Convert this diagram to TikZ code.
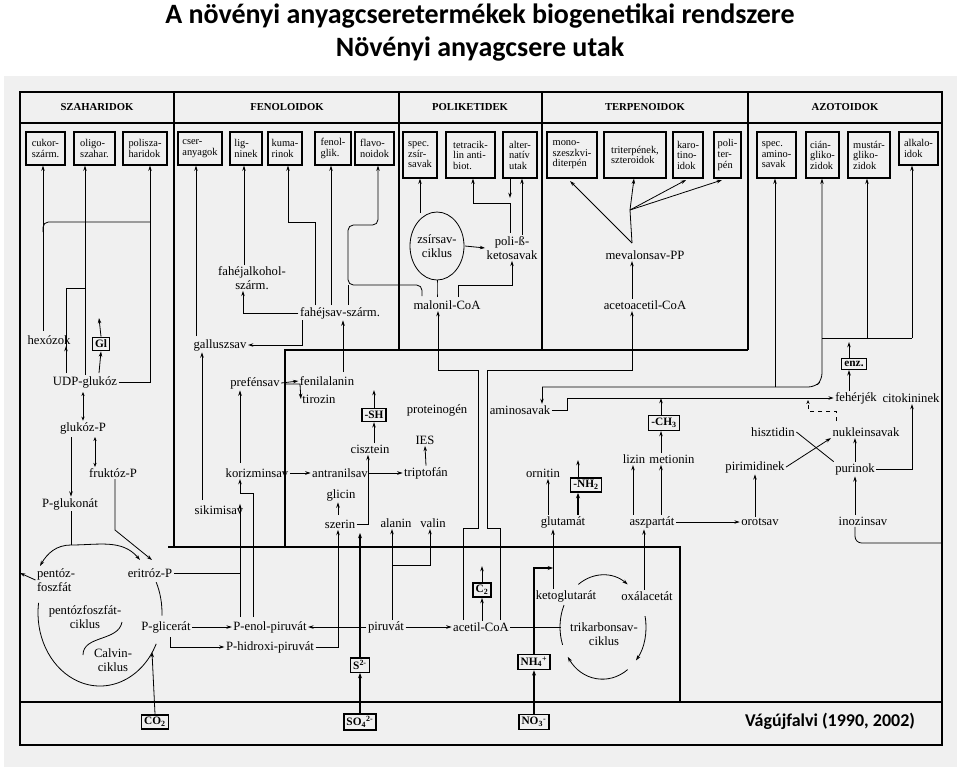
\documentclass[tikz,border=0pt]{standalone}
\usepackage{fontspec}
\setmainfont{Liberation Serif}
\newfontfamily\titlef{Carlito}
\usetikzlibrary{arrows.meta}
\newcommand{\tb}[6]{\node[bx,minimum width={(#3-#2)*0.75pt},minimum height={(#5-#4)*0.75pt}] (#1) at ({(#2+#3)/2},{(#4+#5)/2}) {#6};}
\begin{document}
\begin{tikzpicture}[x=0.75pt,y=-0.75pt,
 lab/.style={inner sep=1pt,font=\fontsize{9.5}{10}\selectfont,align=center},
 bx/.style={draw,line width=0.9pt,inner sep=1pt,font=\fontsize{7.8}{7.9}\selectfont,align=left},
 sbx/.style={draw,line width=1.1pt,inner sep=2pt,font=\fontsize{8.5}{9}\selectfont\bfseries},
 hd/.style={font=\fontsize{8}{9}\selectfont\bfseries},
 ln/.style={line width=0.6pt},
 ar/.style={line width=0.6pt,-{Stealth[length=4pt,width=2.6pt]}},
 tar/.style={line width=1.2pt,-{Stealth[length=4pt,width=3pt]}},
 fr/.style={line width=1pt}]
\useasboundingbox (0,0) rectangle (960,771);
\fill[white] (0,0) rectangle (960,771);
\fill[gray!12] (4,76) rectangle (957,767);
\node[font=\titlef\fontsize{21}{22}\selectfont\bfseries] (t1) at (480,16) {A növényi anyagcseretermékek biogenetikai rendszere};
\node[font=\titlef\fontsize{21}{22}\selectfont\bfseries] (t2) at (480,49) {Növényi anyagcsere utak};
% frame
\draw[fr] (20,92) rectangle (942,745);
\draw[fr] (20,123) -- (942,123);
\draw[fr] (20,702) -- (942,702);
\draw[fr] (174,92) -- (174,547);
\draw[fr] (399,92) -- (399,350);
\draw[fr] (542,92) -- (542,350);
\draw[fr] (748,92) -- (748,350);
\draw[fr] (285,547) -- (285,350) -- (748,350);
\draw[fr] (168,547) -- (680,547) -- (680,702);
\node[hd] (h1) at (97,107) {SZAHARIDOK};
\node[hd] (h2) at (287,107) {FENOLOIDOK};
\node[hd] (h3) at (470,107) {POLIKETIDEK};
\node[hd] (h4) at (645,107) {TERPENOIDOK};
\node[hd] (h5) at (845,107) {AZOTOIDOK};
% top boxes
\tb{b1}{26}{65}{132}{165}{cukor-\\szárm.}
\tb{b2}{74}{115}{132}{165}{oligo-\\szahar.}
\tb{b3}{123}{167}{132}{165}{polisza-\\haridok}
\tb{b4}{178}{222}{132}{165}{cser-\\anyagok}
\tb{b5}{230}{262}{132}{165}{lig-\\ninek}
\tb{b6}{268}{302}{132}{165}{kuma-\\rinok}
\tb{b7}{315}{351}{132}{165}{fenol-\\glik.}
\tb{b8}{355}{394}{132}{165}{flavo-\\noidok}
\tb{b9}{403}{437}{132}{178}{spec.\\zsír-\\savak}
\tb{b10}{446}{495}{132}{178}{tetracik-\\lin anti-\\biot.}
\tb{b11}{503}{537}{132}{178}{alter-\\natív\\utak}
\tb{b12}{547}{597}{132}{178}{mono-\\szeszkvi-\\diterpén}
\tb{b13}{604}{666}{132}{178}{triterpének,\\szteroidok}
\tb{b14}{673}{703}{132}{178}{karo-\\tino-\\idok}
\tb{b15}{714}{741}{132}{178}{poli-\\ter-\\pén}
\tb{b16}{757}{796}{132}{178}{spec.\\amino-\\savak}
\tb{b17}{806}{839}{132}{178}{cián-\\gliko-\\zidok}
\tb{b18}{848}{890}{132}{178}{mustár-\\gliko-\\zidok}
\tb{b19}{899}{938}{132}{165}{alkalo-\\idok}
% labels
\node[lab] (hex) at (49,340) {hexózok};
\node[sbx] (gl) at (101,344) {Gl};
\node[lab] (udp) at (85,382) {UDP-glukóz};
\node[lab] (glp) at (83,428) {glukóz-P};
\node[lab] (frp) at (113,473) {fruktóz-P};
\node[lab] (pgl) at (70,504) {P-glukonát};
\node[lab,align=left] (pen) at (56,580) {pentóz-\\foszfát};
\node[lab] (eri) at (150,573) {eritróz-P};
\node[lab] (pfc) at (85,617) {pentózfoszfát-\\ciklus};
\node[lab] (cal) at (113,660) {Calvin-\\ciklus};
\node[lab] (pgc) at (166,627) {P-glicerát};
\node[sbx] (co2) at (155,722) {CO\textsubscript{2}};
\node[lab] (fal) at (252,278) {fahéjalkohol-\\szárm.};
\node[lab] (fsz) at (340,313) {fahéjsav-szárm.};
\node[lab] (gal) at (220,345) {galluszsav};
\node[lab] (pref) at (255,383) {prefénsav};
\node[lab] (fen) at (327,381) {fenilalanin};
\node[lab] (tir) at (319,399) {tirozin};
\node[sbx] (sh) at (374,415) {-SH};
\node[lab] (cis) at (370,449) {cisztein};
\node[lab] (ies) at (425,440) {IES};
\node[lab] (prot) at (437,410) {proteinogén};
\node[lab] (kor) at (257,473) {korizminsav};
\node[lab] (ant) at (340,473) {antranilsav};
\node[lab] (tri) at (426,473) {triptofán};
\node[lab] (sik) at (219,510) {sikimisav};
\node[lab] (gli) at (341,495) {glicin};
\node[lab] (sze) at (340,524) {szerin};
\node[lab] (ala) at (396,523) {alanin};
\node[lab] (val) at (433,523) {valin};
\node[lab] (pep) at (270,627) {P-enol-piruvát};
\node[lab] (php) at (270,647) {P-hidroxi-piruvát};
\node[lab] (pir) at (386,627) {piruvát};
\node[sbx] (s2) at (360,665) {S\textsuperscript{2-}};
\node[sbx] (so4) at (360,722) {SO\textsubscript{4}\textsuperscript{2-}};
\node[lab] (aco) at (481,627) {acetil-CoA};
\node[sbx] (c2) at (482,590) {C\textsubscript{2}};
\draw[ln] (437,246) ellipse [x radius=27,y radius=34];
\node[lab] (zsc) at (437,246) {zsírsav-\\ciklus};
\node[lab] (pbk) at (512,248) {poli-ß-\\ketosavak};
\node[lab] (mal) at (447,305) {malonil-CoA};
\node[lab] (mev) at (645,255) {mevalonsav-PP};
\node[lab] (aac) at (645,305) {acetoacetil-CoA};
\node[sbx] (enz) at (854,364) {enz.};
\node[lab] (feh) at (856,398) {fehérjék};
\node[lab] (cit) at (911,398) {citokininek};
\node[lab] (ami) at (520,410) {aminosavak};
\node[sbx] (ch3) at (664,423) {-CH\textsubscript{3}};
\node[lab] (liz) at (634,459) {lizin};
\node[lab] (met) at (672,459) {metionin};
\node[lab] (orn) at (543,473) {ornitin};
\node[sbx] (nh2) at (586,485) {-NH\textsubscript{2}};
\node[lab] (glu) at (563,522) {glutamát};
\node[lab] (asz) at (652,522) {aszpartát};
\node[lab] (oro) at (760,522) {orotsav};
\node[lab] (his) at (773,432) {hisztidin};
\node[lab] (nuk) at (866,432) {nukleinsavak};
\node[lab] (pirm) at (755,467) {pirimidinek};
\node[lab] (pur) at (855,469) {purinok};
\node[lab] (ino) at (863,521) {inozinsav};
\node[lab] (ket) at (566,596) {ketoglutarát};
\node[lab] (oxa) at (647,596) {oxálacetát};
\node[lab] (tca) at (604,634) {trikarbonsav-\\ciklus};
\node[sbx] (nh4) at (534,662) {NH\textsubscript{4}\textsuperscript{+}};
\node[sbx] (no3) at (534,722) {NO\textsubscript{3}\textsuperscript{-}};
\node[font=\titlef\fontsize{13.5}{14}\selectfont\bfseries] (ref) at (830,721) {Vágújfalvi (1990, 2002)};
% cycles
\draw[ln] (100,613) ++(-25:62 and 73) arc[start angle=-25,end angle=2,x radius=62,y radius=73];
\draw[ln] (100,613) ++(25:62 and 73) arc[start angle=25,end angle=188,x radius=62,y radius=73];
\draw[ln,-{Stealth[length=4pt,width=2.6pt]}] (71,545) to[out=180,in=60] (40,566);
\draw[ln,-{Stealth[length=4pt,width=2.6pt]}] (71,545) to[out=0,in=130] (140,560);
\draw[ln] (122,622) to[out=-100,in=90] (83,655);
\draw[ln,-{Stealth[length=4pt,width=2.6pt]}] (603,627) ++(-125:43 and 52) arc[start angle=-125,end angle=-55,x radius=43,y radius=52];
\draw[ln,-{Stealth[length=4pt,width=2.6pt]}] (603,627) ++(-12:43 and 52) arc[start angle=-12,end angle=40,x radius=43,y radius=52];
\draw[ln,-{Stealth[length=4pt,width=2.6pt]}] (603,627) ++(55:43 and 52) arc[start angle=55,end angle=145,x radius=43,y radius=52];
\draw[ln] (603,627) ++(160:43 and 52) arc[start angle=160,end angle=205,x radius=43,y radius=52];
% szaharid connectors
\draw[ar] (43,331) -- (b1.south -| 43,0);
\draw[ln,rounded corners=4pt] (150,222) -- (43,222) -- (43,232);
\draw[ar] (udp.north -| 85,0) -- (b2.south -| 85,0);
\draw[ar] (udp.east) -- (150,382) -- (b3.south -| 150,0);
\draw[ln] (66,373) -- (66,288) -- (85,288);
\draw[ar] (66,373) -- (hex.south -| 66,0);
\draw[ar] (99,373) -- (gl.south);
\draw[ar] (gl.north) -- (99,318);
\draw[ln,{Stealth[length=3pt,width=2.4pt]}-{Stealth[length=3pt,width=2.4pt]}] (83,392) -- (glp.north -| 83,0);
\draw[ln,{Stealth[length=3pt,width=2.4pt]}-{Stealth[length=3pt,width=2.4pt]}] (95,437) -- (frp.north -| 95,0);
\draw[ar] (71,437) -- (pgl.north -| 71,0);
\draw[ln] (pgl.south -| 71,0) -- (71,545);
\draw[ar] (frp.south -| 115,0) -- (115,530) -- (152,560);
\draw[ar] (pen.west) -- (20,573);
\draw[ln] (eri.east) -- (240,573);
\draw[ar] (pgc.east) -- (pep.west);
\draw[ar] (170,637) -- (170,647) -- (php.west);
\draw[ar] (co2.north) -- (152,652);
% fenoloid
\draw[ar] (240,617) -- (sik.north -| 240,0);
\draw[ln] (240,530) -- (240,617);
\draw[ar] (253,617) -- (253,493) -- (240,493) -- (kor.south -| 240,0);
\draw[ar] (240,463) -- (pref.south -| 240,0);
\draw[ar] (202,500) -- (gal.south -| 202,0);
\draw[ar] (196,336) -- (b4.south -| 196,0);
\draw[ar] (fsz.south -| 302,0) -- (302,345) -- (gal.east);
\draw[ar] (fsz.west) -- (243,313) -- (fal.south -| 243,0);
\draw[ar] (fal.north -| 244,0) -- (b5.south -| 244,0);
\draw[ar] (315,305) -- (315,222) -- (288,222) -- (b6.south -| 288,0);
\draw[ar] (331,305) -- (b7.south -| 331,0);
\draw[ar,rounded corners=4pt] (422,296) -- (422,285) -- (348,285) -- (348,225) -- (378,225) -- (b8.south -| 378,0);
\draw[ln] (348,285) -- (348,305);
\draw[ar] (343,372) -- (fsz.south -| 343,0);
\draw[ar] (pref.east) -- (fen.west);
\draw[ar] (284,384) -- (300,384) -- (tir.west);
\draw[ar] (cis.north -| 374,0) -- (sh.south);
\draw[ar] (sh.north) -- (374,390);
\draw[ar] (kor.east) -- (ant.west);
\draw[ar] (ant.east) -- (tri.west);
\draw[ar] (tri.north) -- (ies.south);
\draw[ar] (sze.east) -- (368,524) -- (cis.south -| 368,0);
\draw[ar] (338,515) -- (gli.south -| 338,0);
\draw[ar] (php.east) -- (338,647) -- (sze.south -| 338,0);
\draw[tar] (s2.north) -- (360,533);
\draw[tar] (so4.north) -- (s2.south);
\draw[ar] (pir.west) -- (pep.east);
\draw[ar] (pir.north -| 392,0) -- (ala.south -| 392,0);
\draw[ar] (392,565) -- (430,565) -- (val.south -| 430,0);
\draw[ar] (pir.east) -- (aco.west);
\draw[ln] (aco.east) -- (561,627);
\draw[ar] (aco.north -| 482,0) -- (c2.south);
\draw[ar] (c2.north) -- (482,566);
% poliketid
\draw[ar] (463,620) -- (463,528) -- (478,528) -- (478,370) -- (438,370) -- (mal.south -| 438,0);
\draw[ar] (500,620) -- (500,528) -- (487,528) -- (487,370) -- (632,370) -- (aac.south -| 632,0);
\draw[ln] (437,297) to[out=90,in=-90] (437,280);
\draw[ar] (458,297) -- (458,285) -- (512,285) -- (pbk.south -| 512,0);
\draw[ar] (465,246) -- (pbk.west);
\draw[ar] (420,213) -- (b9.south -| 420,0);
\draw[ar] (pbk.north -| 522,0) -- (b11.south -| 522,0);
\draw[ar] (510,233) -- (510,203) -- (473,203) -- (b10.south -| 473,0);
\draw[ar] (b11.south -| 510,0) -- (510,198);
% terpenoid
\draw[ar] (aac.north -| 632,0) -- (mev.south -| 632,0);
\draw[ar] (632,243) -- (570,181);
\draw[ln] (632,243) -- (630,210);
\draw[ar] (630,210) -- (b13.south -| 634,0);
\draw[ar] (630,210) -- (686,180);
\draw[ar] (630,210) -- (722,180);
% azotoid
\draw[ar,rounded corners=5pt] (542,387) -- (815,387) -- (822,380) -- (b17.south -| 822,0);
\draw[ar] (542,387) -- (ami.north -| 542,0);
\draw[ar] (775,387) -- (b16.south -| 775,0);
\draw[ln] (822,338) -- (912,338);
\draw[ar] (867,338) -- (b18.south -| 867,0);
\draw[ar] (912,338) -- (b19.south -| 912,0);
\draw[ar] (enz.north -| 849,0) -- (849,342);
\draw[ar] (feh.north -| 849,0) -- (enz.south -| 849,0);
\draw[ar] (ami.east) -- (567,410) -- (567,398) -- (feh.west);
\draw[ln,dashed,-{Stealth[length=3pt,width=2.4pt]}] (836,421) -- (836,411) -- (808,411) -- (808,400);
\draw[ln] (his.east) -- (pur.north west);
\draw[ar] (pirm.east) -- (nuk.south west);
\draw[ar] (pur.north) -- (nuk.south -| pur.north);
\draw[ar] (ino.north -| 855,0) -- (pur.south);
\draw[ar] (pur.east) -- (912,469) -- (cit.south -| 912,0);
\draw[ar] (oro.north -| 755,0) -- (pirm.south -| 755,0);
\draw[ar] (asz.east) -- (oro.west);
\draw[ar] (asz.north -| 633,0) -- (liz.south -| 633,0);
\draw[ar] (asz.north -| 661,0) -- (met.south -| 661,0);
\draw[ar] (met.north -| 661,0) -- (ch3.south -| 661,0);
\draw[ar] (ch3.north -| 661,0) -- (661,398);
\draw[ar] (glu.north -| 548,0) -- (orn.south -| 548,0);
\draw[tar] (glu.north -| 578,0) -- (nh2.south -| 578,0);
\draw[ar] (nh2.north -| 578,0) -- (578,460);
\draw[ln,rounded corners=5pt] (ino.south -| 855,0) -- (855,543) -- (942,543);
\draw[ar] (ket.north -| 553,0) -- (glu.south -| 553,0);
\draw[tar] (nh4.north) -- (534,568) -- (553,568);
\draw[ar] (oxa.north -| 644,0) -- (asz.south -| 644,0);
\draw[tar] (no3.north) -- (nh4.south);
\end{tikzpicture}
\end{document}
